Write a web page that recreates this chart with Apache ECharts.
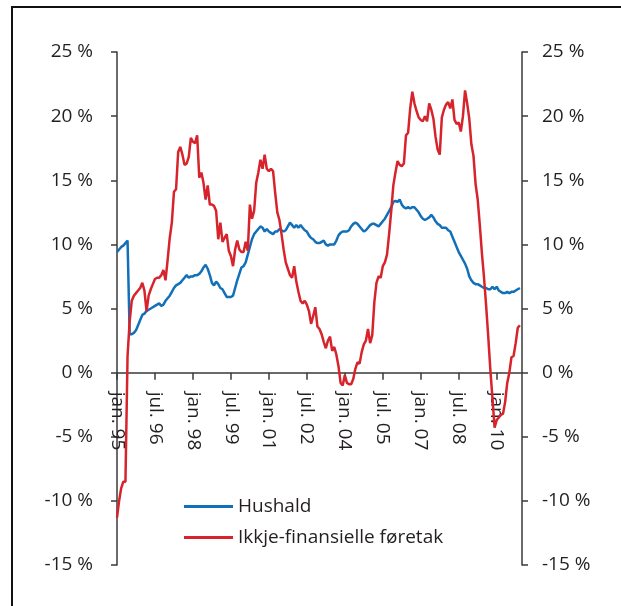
<!DOCTYPE html>
<html>
<head>
<meta charset="utf-8">
<script src="https://cdn.jsdelivr.net/npm/echarts@6/dist/echarts.min.js"></script>
<style>
  html, body { margin: 0; padding: 0; background: #fff; }
  #chart { width: 621px; height: 606px; }
</style>
</head>
<body>
<div id="chart"></div>
<script>
// månadar jan. 95 - jan. 11
const monthNames = ['jan.', 'feb.', 'mar.', 'apr.', 'mai.', 'jun.', 'jul.', 'aug.', 'sep.', 'okt.', 'nov.', 'des.']
const categories = []
for (let y = 1995; y <= 2011; y++) {
  for (let m = 0; m < 12; m++) {
    if (y === 2011 && m > 0) break
    categories.push(monthNames[m] + ' ' + String(y).slice(2))
  }
}

const yTicks = [-15, -10, -5, 0, 5, 10, 15, 20, 25]

// Hushald, 12-månadersvekst i prosent
const hushald = [
  9.4, 9.6, 9.8, 9.9, 10.1, 10.3, 3.0, 3.0, 3.1, 3.3, 3.7, 4.1,
  4.5, 4.6, 4.8, 4.9, 5.0, 5.1, 5.2, 5.3, 5.4, 5.2, 5.3, 5.6,
  5.8, 6.0, 6.3, 6.6, 6.8, 6.9, 7.0, 7.2, 7.4, 7.6, 7.4, 7.5,
  7.5, 7.6, 7.6, 7.7, 7.9, 8.2, 8.4, 8.1, 7.6, 7.0, 6.8, 7.1,
  6.9, 6.6, 6.5, 6.2, 5.9, 5.9, 5.9, 6.0, 6.6, 7.2, 7.7, 8.2,
  8.3, 8.6, 9.2, 9.8, 10.4, 10.8, 11.0, 11.2, 11.4, 11.3, 11.0, 11.2,
  11.0, 10.9, 10.8, 11.0, 11.0, 11.2, 11.1, 11.0, 11.1, 11.4, 11.7, 11.5,
  11.3, 11.5, 11.3, 11.5, 11.3, 11.1, 11.0, 10.7, 10.5, 10.4, 10.2, 10.1,
  10.1, 10.2, 10.3, 10.0, 9.9, 10.0, 10.0, 10.0, 10.3, 10.7, 10.9, 11.0,
  11.0, 11.0, 11.1, 11.4, 11.6, 11.7, 11.6, 11.4, 11.2, 11.0, 11.1, 11.3,
  11.5, 11.6, 11.6, 11.5, 11.4, 11.6, 11.8, 12.0, 12.3, 12.6, 12.9, 13.3,
  13.4, 13.3, 13.5, 13.1, 12.9, 12.8, 12.9, 12.8, 12.9, 12.9, 12.7, 12.5,
  12.2, 12.0, 11.9, 12.0, 12.1, 12.3, 12.1, 11.8, 11.6, 11.5, 11.3, 11.3,
  11.3, 11.1, 11.0, 10.6, 10.2, 9.8, 9.4, 9.1, 8.8, 8.5, 8.1, 7.5,
  7.2, 7.0, 6.9, 6.9, 6.8, 6.7, 6.6, 6.6, 6.5, 6.5, 6.7, 6.5,
  6.7, 6.4, 6.3, 6.2, 6.2, 6.3, 6.2, 6.3, 6.3, 6.4, 6.5, 6.6
]

// Ikkje-finansielle føretak
const foretak = [
  -11.3, -10.0, -9.0, -8.5, -8.5, 1.3, 4.0, 5.6, 6.0, 6.2, 6.4, 6.6,
  7.0, 6.4, 4.8, 6.0, 6.5, 6.9, 7.3, 7.4, 7.4, 7.6, 8.0, 7.2,
  8.8, 10.5, 11.7, 14.1, 14.3, 17.2, 17.6, 17.0, 16.2, 16.3, 16.8, 18.3,
  18.0, 17.9, 18.5, 15.2, 15.6, 14.8, 13.5, 14.6, 13.1, 13.1, 13.0, 12.6,
  10.4, 11.7, 10.2, 10.5, 10.8, 9.5, 9.1, 8.3, 9.6, 10.3, 9.6, 9.4,
  9.4, 10.2, 9.5, 13.1, 12.0, 12.6, 14.8, 15.6, 16.6, 15.9, 17.0, 15.9,
  15.7, 15.9, 15.7, 14.0, 12.5, 11.9, 10.8, 9.6, 8.6, 8.1, 7.6, 7.4,
  8.3, 7.1, 6.3, 5.6, 5.4, 5.6, 5.3, 4.8, 3.8, 4.4, 5.1, 3.6,
  3.4, 3.0, 2.4, 1.9, 2.5, 2.8, 1.7, 2.0, 1.4, 0.5, -0.8, -1.0,
  -0.2, -0.8, -0.9, -0.9, -0.5, 0.3, 0.8, 0.7, 1.6, 2.2, 2.5, 3.4,
  2.3, 2.9, 5.5, 7.0, 7.5, 7.4, 8.3, 8.6, 9.2, 10.8, 12.6, 14.6,
  15.6, 16.5, 16.2, 16.1, 16.3, 18.5, 18.7, 20.6, 21.9, 21.0, 20.4, 19.9,
  19.7, 19.6, 20.0, 19.6, 21.0, 20.5, 19.8, 18.4, 17.4, 17.0, 19.9, 20.5,
  20.9, 21.1, 20.6, 21.3, 19.7, 19.4, 19.5, 18.8, 20.0, 22.0, 21.0, 19.8,
  17.8, 16.9, 14.7, 13.5, 11.5, 9.3, 7.4, 5.2, 2.8, 0.2, -2.0, -4.3,
  -3.7, -3.5, -3.3, -3.2, -2.3, -0.8, 0.0, 1.2, 1.3, 2.3, 3.5, 3.7
]

const FONT = '"Open Sans", sans-serif'
const TEXT = '#231f20'
const AXIS = '#3a3a3a'

const GRID = { left: 117, right: 99, top: 52, bottom: 41 }
// x-aksen ligg på 0-linja: flytt han opp frå botnen av plottet
const plotH = 606 - GRID.top - GRID.bottom
const zeroOffset = -plotH * (0 - yTicks[0]) / (yTicks[yTicks.length - 1] - yTicks[0])

const chart = echarts.init(document.getElementById('chart'))

const yAxisBase = (pos, margin) => ({
  type: 'value',
  position: pos,
  min: yTicks[0],
  max: yTicks[yTicks.length - 1],
  interval: 5,
  splitLine: { show: false },
  axisLine: { show: true, onZero: false, lineStyle: { color: AXIS, width: 1.5 } },
  axisTick: { show: true, length: 6, lineStyle: { color: AXIS, width: 1.5 } },
  axisLabel: {
    margin: margin,
    color: TEXT,
    fontFamily: FONT,
    fontSize: 19,
    formatter: '{value} %',
  },
})

chart.setOption({
  animation: false,
  backgroundColor: '#fff',
  textStyle: { fontFamily: FONT },
  graphic: [
    {
      type: 'rect',
      shape: { x: 12, y: 7, width: 700, height: 700 },
      style: { fill: 'none', stroke: '#111', lineWidth: 2 },
      silent: true,
    },
  ],
  grid: { ...GRID, containLabel: false, outerBoundsMode: 'none' },
  legend: {
    orient: 'vertical',
    left: 184,
    top: 497,
    padding: 0,
    icon: 'rect',
    itemWidth: 49,
    itemHeight: 3,
    itemGap: 12,
    textStyle: { color: TEXT, fontFamily: FONT, fontSize: 19 },
    data: ['Hushald', 'Ikkje-finansielle føretak'],
  },
  xAxis: {
    type: 'category',
    data: categories,
    boundaryGap: false,
    offset: zeroOffset,
    axisLine: { onZero: false, lineStyle: { color: AXIS, width: 1.5 } },
    axisTick: { interval: 17, length: 7, lineStyle: { color: AXIS, width: 1.5 } },
    axisLabel: {
      interval: 17,
      rotate: -90,
      margin: 19,
      color: TEXT,
      fontFamily: FONT,
      fontSize: 19,
    },
    splitLine: { show: false },
  },
  yAxis: [yAxisBase('left', 24), yAxisBase('right', 20)],
  series: [
    {
      name: 'Hushald',
      type: 'line',
      data: hushald,
      showSymbol: false,
      symbol: 'none',
      lineStyle: { color: '#1170b8', width: 2.5 },
      itemStyle: { color: '#1170b8' },
      z: 3,
    },
    {
      name: 'Ikkje-finansielle føretak',
      type: 'line',
      data: foretak,
      showSymbol: false,
      symbol: 'none',
      lineStyle: { color: '#d7232b', width: 2.5 },
      itemStyle: { color: '#d7232b' },
      z: 4,
    },
  ],
})
</script>
</body>
</html>
